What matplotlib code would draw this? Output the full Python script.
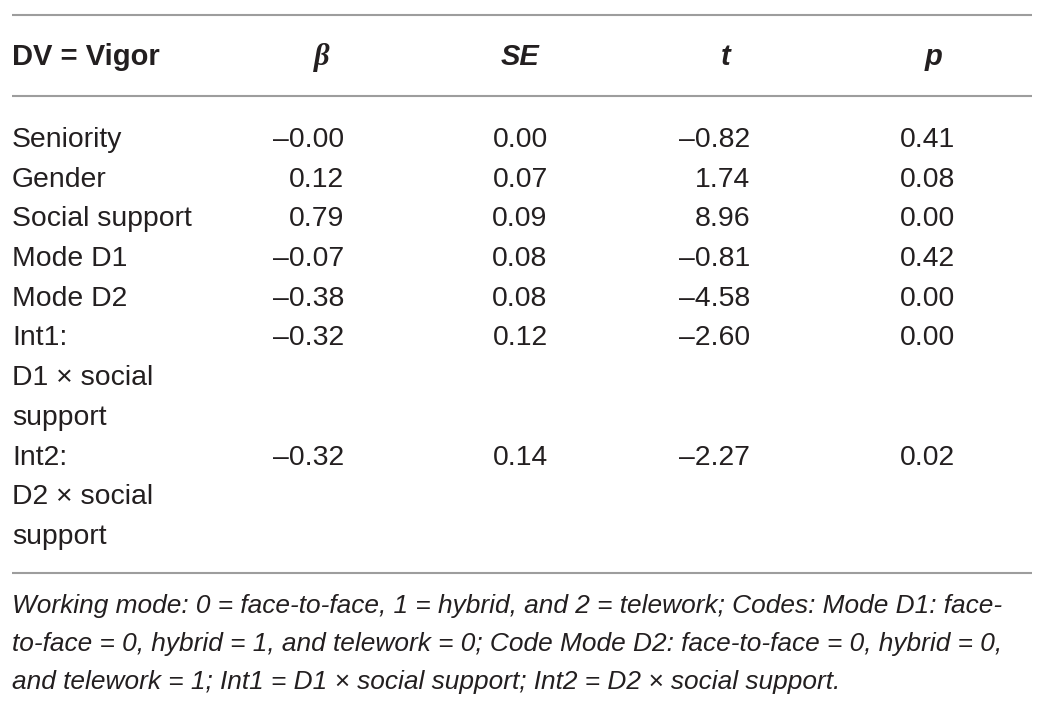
import matplotlib
matplotlib.use('Agg')
import matplotlib.pyplot as plt

# table content
row_labels = [['Seniority'], ['Gender'], ['Social support'], ['Mode D1'], ['Mode D2'],
              ['Int1:', 'D1 \u00d7 social', 'support'],
              ['Int2:', 'D2 \u00d7 social', 'support']]
beta = [-0.0, 0.12, 0.79, -0.07, -0.38, -0.32, -0.32]
se = [0.00, 0.07, 0.09, 0.08, 0.08, 0.12, 0.14]
t_val = [-0.82, 1.74, 8.96, -0.81, -4.58, -2.60, -2.27]
p_val = [0.41, 0.08, 0.00, 0.42, 0.00, 0.00, 0.02]
footnote = ['Working mode: 0 = face-to-face, 1 = hybrid, and 2 = telework; Codes: Mode D1: face-',
            'to-face = 0, hybrid = 1, and telework = 0; Code Mode D2: face-to-face = 0, hybrid = 0,',
            'and telework = 1; Int1 = D1 \u00d7 social support; Int2 = D2 \u00d7 social support.']

font = 'Liberation Sans'
txt_col = '#231f20'
line_col = '#9d9d9d'
fs = 20.4
line_h = 39.7


def fmt(v):
    return ('%.2f' % v).replace('-', '\u2013')


fig = plt.figure(figsize=(10.44, 7.04), dpi=100)
ax = fig.add_axes([0, 0, 1, 1])
ax.set_xlim(0, 1044)
ax.set_ylim(704, 0)
ax.axis('off')

for y in (15, 96, 573):
    ax.plot([12, 1032], [y, y], color=line_col, lw=1.5, solid_capstyle='butt')

# header
hy = 65
ax.text(12, hy, 'DV = Vigor', fontsize=21, fontweight='bold', family=font, color=txt_col, va='baseline')
ax.text(322, hy, '\u03b2', fontsize=22, fontweight='bold', style='italic', family='Liberation Serif',
        color=txt_col, va='baseline', ha='center')
for x, s in ((520, 'SE'), (726, 't'), (934, 'p')):
    ax.text(x, hy, s, fontsize=21, fontweight='bold', style='italic', family=font,
            color=txt_col, va='baseline', ha='center')

# body
y = 147
for lab, b, s, tv, pv in zip(row_labels, beta, se, t_val, p_val):
    for i, part in enumerate(lab):
        ax.text(12, y + i * line_h, part, fontsize=fs, family=font, color=txt_col, va='baseline')
    ax.text(344, y, fmt(b), fontsize=fs, family=font, color=txt_col, va='baseline', ha='right')
    ax.text(520, y, fmt(s), fontsize=fs, family=font, color=txt_col, va='baseline', ha='center')
    ax.text(750, y, fmt(tv), fontsize=fs, family=font, color=txt_col, va='baseline', ha='right')
    ax.text(955, y, fmt(pv), fontsize=fs, family=font, color=txt_col, va='baseline', ha='right')
    y += len(lab) * line_h

# footnote
for i, s in enumerate(footnote):
    ax.text(12, 613 + i * 38, s, fontsize=18.9, style='italic', family=font,
            color=txt_col, va='baseline')

plt.savefig('out.png', dpi=100)
